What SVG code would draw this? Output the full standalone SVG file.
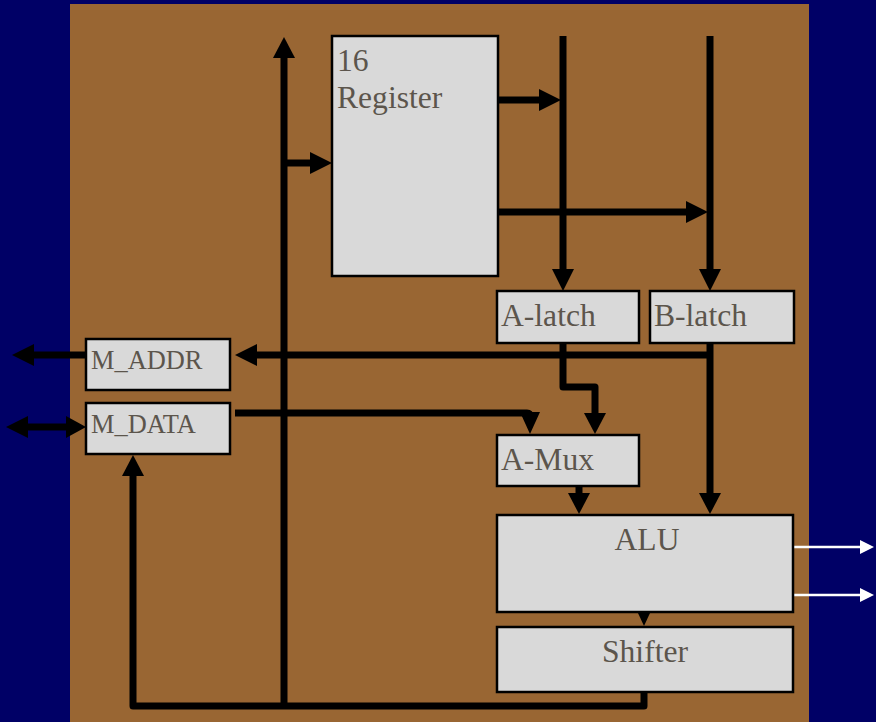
<svg xmlns="http://www.w3.org/2000/svg" width="876" height="722" viewBox="0 0 876 722">
<style>
.box{fill:#d9d9d9;stroke:#000;stroke-width:2.5}
.t{font-family:"Liberation Serif","Times New Roman",serif;fill:#5c554c;font-size:31.6px}
.s{font-size:26.4px}
.w{fill:none;stroke:#000;stroke-width:7;stroke-linejoin:round}
.ah{fill:#000}
.wh{stroke:#fff;stroke-width:2.5;fill:none}
</style>
<rect x="0" y="0" width="876" height="722" fill="#000066"/>
<rect x="70" y="4" width="739" height="718" fill="#996633"/>
<g id="connectors">
  <path class="w" d="M284,707 V56"/>
  <polygon class="ah" points="284,37 273,58 295,58"/>
  <path class="w" d="M284,163 H312"/>
  <polygon class="ah" points="332,163 310,152 310,174"/>
  <path class="w" d="M498,100 H542"/>
  <polygon class="ah" points="561,100 539,89 539,111"/>
  <path class="w" d="M498,212 H688"/>
  <polygon class="ah" points="708,212 686,201 686,223"/>
  <path class="w" d="M563,36 V271"/>
  <polygon class="ah" points="563,291 552,269 574,269"/>
  <path class="w" d="M710,36 V271"/>
  <polygon class="ah" points="710,291 699,269 721,269"/>
  <path class="w" d="M563,343 V387 H595 V415"/>
  <polygon class="ah" points="595,434 584,413 606,413"/>
  <path class="w" d="M710,343 V495"/>
  <polygon class="ah" points="710,514 699,493 721,493"/>
  <path class="w" d="M710,355 H255"/>
  <polygon class="ah" points="235,355 257,344 257,366"/>
  <path class="w" d="M86,355 H31"/>
  <polygon class="ah" points="12,355 34,344 34,366"/>
  <path class="w" d="M26,427 H68"/>
  <polygon class="ah" points="6,427 28,416 28,438"/>
  <polygon class="ah" points="86,427 66,416 66,438"/>
  <path class="w" d="M235,413 H527 Q530,413 530,416"/>
  <polygon class="ah" points="530,434 520,412 540,412"/>
  <path class="w" d="M579,486 V495"/>
  <polygon class="ah" points="579,514 568,493 590,493"/>
  <polygon class="ah" points="644,626 637.5,612 650.5,612"/>
  <path class="w" d="M644,692 V706 H133 V474"/>
  <polygon class="ah" points="133,455 122,476 144,476"/>
  <path class="wh" d="M793,547 H862"/>
  <polygon points="874,547 860,540 860,554" fill="#fff"/>
  <path class="wh" d="M793,595 H862"/>
  <polygon points="874,595 860,588 860,602" fill="#fff"/>
</g>
<g id="register">
  <rect class="box" x="332" y="36" width="166" height="240"/>
  <text class="t" x="337" y="71">16</text>
  <text class="t" x="337" y="108">Register</text>
</g>
<g id="a-latch">
  <rect class="box" x="497" y="291" width="142" height="52"/>
  <text class="t" x="501" y="326">A-latch</text>
</g>
<g id="b-latch">
  <rect class="box" x="650" y="291" width="144" height="52"/>
  <text class="t" x="654" y="326">B-latch</text>
</g>
<g id="m-addr">
  <rect class="box" x="86" y="339" width="144" height="51"/>
  <text class="t s" x="91" y="369">M_ADDR</text>
</g>
<g id="m-data">
  <rect class="box" x="86" y="403" width="144" height="51"/>
  <text class="t s" x="91" y="433">M_DATA</text>
</g>
<g id="a-mux">
  <rect class="box" x="497" y="435" width="142" height="51"/>
  <text class="t" x="501" y="470">A-Mux</text>
</g>
<g id="alu">
  <rect class="box" x="497" y="515" width="296" height="97"/>
  <text class="t" x="647" y="550" text-anchor="middle">ALU</text>
</g>
<g id="shifter">
  <rect class="box" x="497" y="627" width="296" height="65"/>
  <text class="t" x="645" y="662" text-anchor="middle">Shifter</text>
</g>
</svg>
